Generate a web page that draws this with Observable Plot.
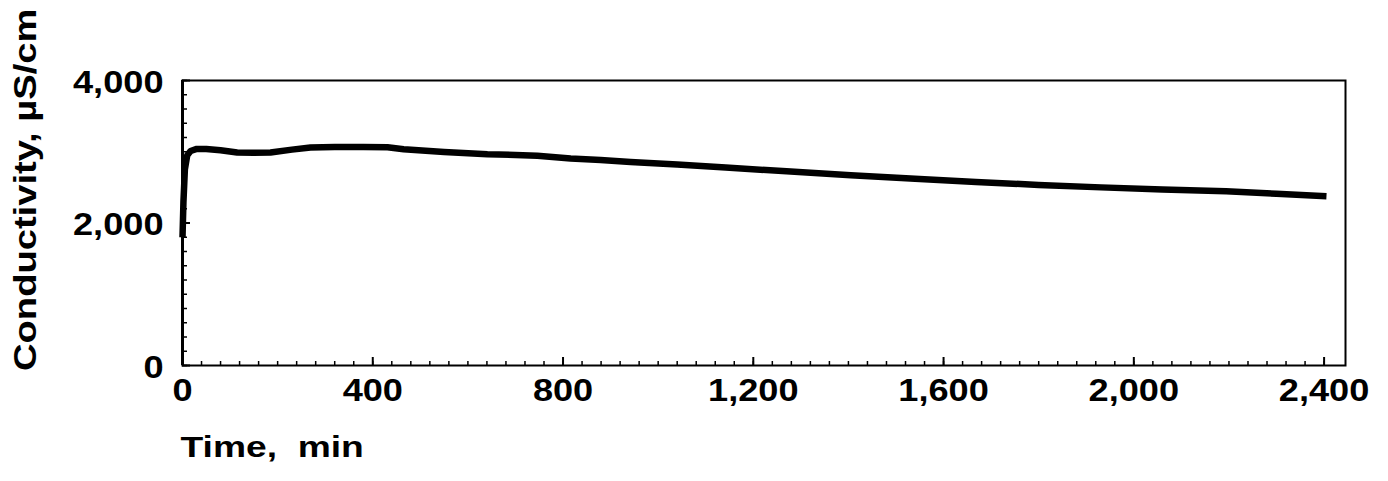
<!DOCTYPE html>
<html>
<head>
<meta charset="utf-8">
<script src="https://cdn.jsdelivr.net/npm/d3@7"></script>
<script src="https://cdn.jsdelivr.net/npm/@observablehq/plot@0.6"></script>
<style>
  html, body { margin: 0; padding: 0; background: #fff; }
  svg { display: block; }
</style>
</head>
<body>
<div id="chart"></div>
<script>
// Time (min)
const time = [0, 2, 5, 10, 17, 30, 50, 80, 115, 150, 185, 230, 269, 320, 380, 431, 465, 550, 641, 700, 746, 816, 879, 942, 1040, 1142, 1270, 1405, 1540, 1668, 1800, 1931, 2060, 2194, 2300, 2405];
// Conductivity (µS/cm)
const conductivity = [1800, 2300, 2750, 2950, 3010, 3040, 3040, 3020, 2990, 2985, 2990, 3030, 3060, 3065, 3065, 3062, 3035, 2995, 2965, 2955, 2945, 2905, 2885, 2855, 2820, 2780, 2725, 2670, 2620, 2575, 2535, 2500, 2470, 2445, 2410, 2377];

const xTickLabels = [0, 400, 800, 1200, 1600, 2000, 2400];
const yTickLabels = [0, 2000, 4000];
const xMinorTicks = d3.range(0, 2401, 40);
const yMinorTicks = d3.range(0, 4001, 200);
const xTitle = "Time,\u00a0\u00a0min";
const yTitle = "Conductivity, \u00b5S/cm";

const data = time.map((t, i) => ({t, c: conductivity[i]}));
const fmt = d3.format(",");
const FONT = "'Liberation Sans', Arial, Helvetica, sans-serif";

const chart = Plot.plot({
  width: 1388,
  height: 481,
  marginLeft: 182,
  marginRight: 43,
  marginTop: 80,
  marginBottom: 116,
  style: {fontFamily: FONT, fontWeight: "bold", color: "black", background: "white"},
  x: {domain: [0, 2445], axis: null},
  y: {domain: [0, 4000], axis: null},
  marks: [
    Plot.tickX(xMinorTicks, {x: d => d, insetTop: 281, stroke: "black", strokeWidth: 1.5}),
    Plot.tickX(xTickLabels, {x: d => d, insetTop: 277, stroke: "black", strokeWidth: 2}),
    Plot.tickY(yMinorTicks, {y: d => d, insetRight: 1158, stroke: "black", strokeWidth: 1.5}),
    Plot.tickY(yTickLabels, {y: d => d, insetRight: 1155, stroke: "black", strokeWidth: 2}),
    Plot.frame({stroke: "black", strokeWidth: 2}),
    Plot.ruleX([0], {stroke: "black", strokeWidth: 3}),
    Plot.line(data, {x: "t", y: "c", stroke: "black", strokeWidth: 6.5, strokeLinejoin: "round", strokeLinecap: "butt"}),
    Plot.text(xTickLabels, {x: d => d, frameAnchor: "bottom", dy: 35, text: d => fmt(d), fontSize: 32, fontWeight: "bold", fill: "black"}),
    Plot.text(yTickLabels, {y: d => d, frameAnchor: "left", textAnchor: "end", dx: -19, dy: 2, text: d => fmt(d), fontSize: 32, fontWeight: "bold", fill: "black"}),
    Plot.text([xTitle], {frameAnchor: "bottom-left", textAnchor: "start", dx: -2, dy: 91, text: d => d, fontSize: 30, fontWeight: "bold", fill: "black", className: "xtitle"}),
    Plot.text([yTitle], {frameAnchor: "left", textAnchor: "start", rotate: -90, dx: -156, dy: 148, text: d => d, fontSize: 31, fontWeight: "bold", fill: "black", className: "ytitle"})
  ]
});

document.getElementById("chart").appendChild(chart);

// Widen the glyphs slightly to match the extended bold face of the original
chart.querySelectorAll("text").forEach(el => {
  const len = el.getComputedTextLength();
  const cls = (el.closest("g") && el.closest("g").getAttribute("class")) || "";
  let s = 1.13;
  if (/ytitle/.test(cls) || /rotate/.test(el.getAttribute("transform") || "")) s = 1.23;
  else if (/xtitle/.test(cls)) s = 1.24;
  if (len > 0) {
    el.setAttribute("textLength", (len * s).toFixed(1));
    el.setAttribute("lengthAdjust", "spacingAndGlyphs");
  }
});
</script>
</body>
</html>
